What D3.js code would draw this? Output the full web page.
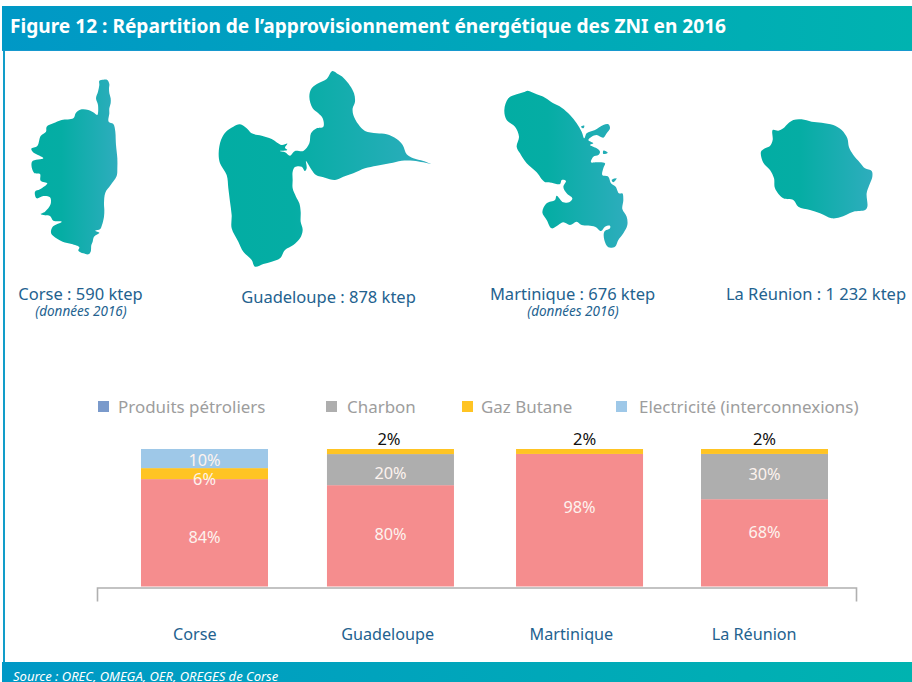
<!DOCTYPE html>
<html lang="fr"><head><meta charset="utf-8">
<script src="https://cdn.jsdelivr.net/npm/d3@7"></script>
<style>html,body{margin:0;padding:0;background:#fff}svg{display:block}text{font-family:"Noto Sans",sans-serif}</style>
</head><body><svg id="c" width="912" height="682"></svg>
<script>
const titleText = "Figure 12 : Répartition de l’approvisionnement énergétique des ZNI en 2016";
const sourceText = "Source : OREC, OMEGA, OER, OREGES de Corse";
const categories = ["Corse","Guadeloupe","Martinique","La Réunion"];
const islandLabels = ["Corse : 590 ktep","Guadeloupe : 878 ktep","Martinique : 676 ktep","La Réunion : 1 232 ktep"];
const legendLabels = ["Produits pétroliers","Charbon","Gaz Butane","Electricité (interconnexions)"];
const seriesKeys = ["petrole","charbon","gaz","elec"];
// Drawn segment heights (share of the bar)
const petrole = [78.1,73.7,96.4,63.5];
const charbon = [0,22.6,0,32.9];
const gaz = [8.0,3.7,3.6,3.6];
const elec = [13.9,0,0,0];
// Percentages printed on the bars
const petroleLabels = ["84%","80%","98%","68%"];
const charbonLabels = ["","20%","","30%"];
const gazLabels = ["6%","2%","2%","2%"];
const elecLabels = ["10%","","",""];

// Island silhouettes, traced outlines in 3x crop pixels
const corse = [[238,32],[250,29],[262,30],[268,42],[267,55],[268,70],[272,85],[272,100],[268,115],[268,130],[266,155],[280,162],[286,185],[287,205],[288,225],[292,265],[292,295],[290,318],[272,345],[256,368],[252,400],[253,420],[252,440],[246,465],[240,478],[226,482],[238,488],[222,500],[218,515],[214,525],[212,545],[205,553],[190,550],[175,542],[178,532],[155,522],[128,515],[100,498],[93,488],[98,470],[125,455],[100,452],[90,438],[75,436],[62,432],[75,425],[92,402],[90,382],[70,378],[50,385],[45,365],[60,358],[82,340],[62,332],[60,312],[42,308],[36,275],[70,265],[48,252],[38,245],[34,236],[52,228],[62,198],[78,185],[80,170],[100,160],[125,150],[160,145],[168,128],[185,118],[205,120],[222,128],[232,135],[234,105],[228,85],[234,65],[238,45]];
const guadeloupe = [[367,18],[385,28],[400,38],[420,62],[432,85],[435,110],[428,130],[430,150],[445,178],[465,198],[500,205],[530,208],[560,222],[578,240],[590,268],[610,280],[640,288],[662,297],[640,292],[610,287],[575,287],[540,295],[500,302],[465,310],[430,325],[400,335],[375,345],[345,338],[318,330],[305,315],[296,300],[288,288],[290,310],[285,318],[275,305],[255,306],[248,320],[248,345],[248,370],[258,395],[268,415],[272,440],[272,470],[278,495],[270,520],[250,540],[225,555],[210,580],[185,590],[160,597],[135,605],[125,585],[100,560],[85,530],[65,490],[65,450],[60,410],[55,370],[50,330],[30,295],[26,265],[33,225],[48,200],[70,185],[90,178],[110,190],[125,205],[155,212],[185,222],[215,240],[232,236],[225,248],[232,255],[210,258],[225,262],[240,272],[255,258],[280,258],[298,235],[303,205],[320,190],[340,185],[338,160],[325,145],[308,130],[298,95],[305,70],[325,55],[350,42]];
const martinique = [[98,17],[125,28],[150,38],[175,55],[200,68],[225,90],[245,115],[260,140],[268,160],[275,145],[300,135],[325,120],[340,118],[345,130],[335,145],[325,158],[305,150],[290,155],[280,165],[295,175],[285,180],[305,190],[315,200],[310,210],[295,215],[288,232],[305,232],[330,235],[325,250],[322,270],[340,275],[348,295],[362,305],[372,325],[382,325],[385,345],[382,372],[395,395],[397,420],[385,445],[370,465],[360,485],[340,487],[328,465],[328,440],[345,430],[345,422],[330,425],[318,438],[300,425],[260,420],[245,410],[225,420],[205,412],[190,420],[170,430],[155,405],[142,382],[155,355],[180,345],[185,332],[205,352],[225,350],[232,340],[215,325],[205,305],[213,288],[200,285],[195,297],[170,293],[148,290],[125,262],[95,235],[75,205],[65,185],[72,155],[60,125],[35,105],[28,75],[40,40],[65,28],[85,22]];
const martiniqueIslets = [[[258,125],[268,122],[265,130]],[[325,197],[338,203],[325,207]],[[350,285],[365,280],[355,292]]];
const reunion = [[130,30],[155,28],[185,35],[215,38],[250,45],[275,60],[292,85],[297,112],[310,135],[330,158],[345,175],[365,183],[367,200],[358,225],[350,250],[352,290],[345,300],[310,305],[270,322],[245,325],[210,310],[180,300],[145,290],[130,270],[100,265],[75,235],[72,205],[60,180],[40,158],[33,125],[45,115],[60,108],[68,90],[68,60],[85,62],[100,55],[115,40]];

const svg = d3.select("#c");
const defs = svg.append("defs");
function grad(id, stops){
  const g = defs.append("linearGradient").attr("id",id).attr("x1","0").attr("x2","1").attr("y1","0").attr("y2","0");
  stops.forEach(s=>g.append("stop").attr("offset",s[0]).attr("stop-color",s[1]));
}
grad("band",[[0,"#0098C6"],[1,"#00B3B0"]]);
grad("isle",[[0,"#02ADA3"],[0.35,"#05ADA4"],[1,"#2EADBD"]]);

// Frame
svg.append("rect").attr("x",2).attr("y",6).attr("width",910).attr("height",44.5).attr("fill","url(#band)");
svg.append("rect").attr("x",2).attr("y",50).attr("width",910).attr("height",1).attr("fill","#1699CE");
svg.append("rect").attr("x",3).attr("y",50).attr("width",2).attr("height",613).attr("fill","#129DC9");
svg.append("rect").attr("x",2).attr("y",662).attr("width",910).attr("height",20).attr("fill","url(#band)");
svg.append("text").attr("x",10).attr("y",33).attr("fill","#fff").attr("font-size",19.13).attr("font-weight",700).text(titleText);
svg.append("text").attr("x",13).attr("y",681).attr("fill","#fff").attr("font-size",13).attr("font-style","italic").text(sourceText);

// Islands
const outline = (ox,oy)=>d3.line().x(p=>ox+p[0]/3).y(p=>oy+p[1]/3).curve(d3.curveCatmullRomClosed.alpha(0.5));
[[corse,20,70],[guadeloupe,210,65],[martinique,495,85],[reunion,750,110]].forEach(([pts,ox,oy])=>{
  svg.append("path").attr("d",outline(ox,oy)(pts)).attr("fill","url(#isle)");
});
martiniqueIslets.forEach(pts=>svg.append("path").attr("d",outline(495,85)(pts)).attr("fill","#22ADB5"));

const labelBlue = "#23628F";
const islandLabelX = [80.5,328.5,572.5,816];
const islandLabelY = [300,303,300,300];
islandLabels.forEach((t,i)=>svg.append("text").attr("x",islandLabelX[i]).attr("y",islandLabelY[i]).attr("text-anchor","middle")
  .attr("fill",labelBlue).attr("font-size",16.5).text(t));
[[81,"(données 2016)"],[573,"(données 2016)"]].forEach(([x,t])=>svg.append("text").attr("x",x).attr("y",316).attr("text-anchor","middle")
  .attr("fill",labelBlue).attr("font-size",13.5).attr("font-style","italic").text(t));

// Legend
const legendColors = ["#7A9ACB","#AEAEAE","#FFC423","#9EC8E8"];
const legendSwatchX = [98,326,462,616];
const legendTextX = [118,347,481,639];
legendLabels.forEach((t,i)=>{
  svg.append("rect").attr("x",legendSwatchX[i]).attr("y",401).attr("width",11).attr("height",11).attr("fill",legendColors[i]);
  svg.append("text").attr("x",legendTextX[i]).attr("y",412.5).attr("fill","#9D9D9D").attr("font-size",16.95).attr("font-family","Open Sans").text(t);
});

// Stacked bars
const table = categories.map((c,i)=>({cat:c,petrole:petrole[i],charbon:charbon[i],gaz:gaz[i],elec:elec[i]}));
const printed = {petrole:petroleLabels,charbon:charbonLabels,gaz:gazLabels,elec:elecLabels};
const barColors = {petrole:"#F58D8E",charbon:"#AEAEAE",gaz:"#FFC423",elec:"#9EC8E8"};
const xBase = d3.scalePoint().domain(categories).range([204.5,764.5]);
const barNudge = {"Corse":0,"Guadeloupe":-0.7,"Martinique":1.7,"La Réunion":0};
const x = c=>xBase(c)+barNudge[c];
const y = d3.scaleLinear().domain([0,100]).range([586.5,449]);
const barW = 127;
const stacked = d3.stack().keys(seriesKeys)(table);
stacked.forEach(s=>{
  svg.append("g").selectAll("rect").data(s.filter(d=>d[1]>d[0])).join("rect")
    .attr("x",d=>x(d.data.cat)-barW/2).attr("width",barW)
    .attr("y",d=>y(d[1])).attr("height",d=>y(d[0])-y(d[1])).attr("fill",barColors[s.key]);
});

// Value labels
const nudgeY = {petrole:[4.5,-1.5,-13,-10.5],charbon:[0,3.5,0,-2.5],gaz:[5.5,0,0,0],elec:[1.5,0,0,0]};
const nudgeX = {petrole:[0,0,0,0],charbon:[0,0,0,0],gaz:[0,-1.5,5,0],elec:[0,0,0,0]};
stacked.forEach(s=>{
  s.forEach((d,i)=>{
    const t = printed[s.key][i];
    if(!t) return;
    const tiny = s.key==="gaz" && i>0;
    const ymid = tiny ? y(d[1])-10 : (y(d[0])+y(d[1]))/2 + nudgeY[s.key][i];
    svg.append("text").attr("x",x(d.data.cat)+nudgeX[s.key][i]).attr("y",ymid).attr("dy","0.35em").attr("text-anchor","middle")
      .attr("font-family","Open Sans").attr("font-size",tiny?16.5:16.3)
      .attr("fill",tiny?"#111":"#FDF3EE").text(t);
  });
});

// Category axis
const xAxisScale = d3.scaleBand().domain(categories).range([97,856]);
const axisG = svg.append("g").attr("transform","translate(0,587.5)")
  .call(d3.axisBottom(xAxisScale).tickSizeInner(0).tickSizeOuter(14).tickPadding(41));
axisG.select(".domain").attr("stroke","#B0B0B0").attr("stroke-width",1.6);
const tickNudge = [3,6,0,-7];
axisG.selectAll(".tick text").attr("dx",(d,i)=>tickNudge[i]).attr("fill",labelBlue).attr("font-size",16.2).attr("font-family","Noto Sans");
</script></body></html>
